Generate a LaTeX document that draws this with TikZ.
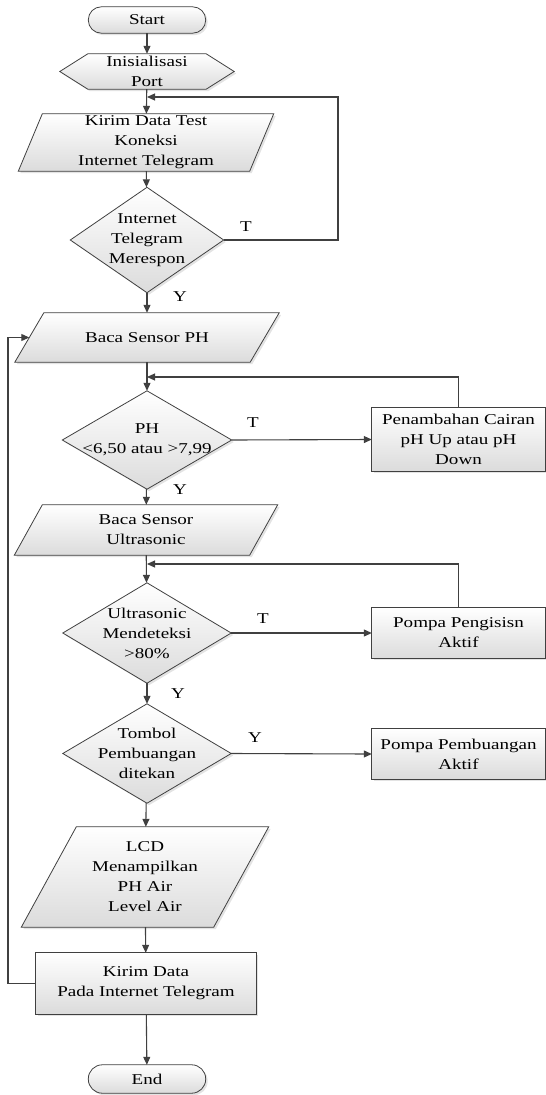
\documentclass[tikz,border=0pt]{standalone}
\usepackage{fontspec}
\setmainfont{Liberation Serif}[FakeStretch=1.27]
\usetikzlibrary{calc}
\usetikzlibrary{arrows.meta}
\usetikzlibrary{shadows}
\usetikzlibrary{backgrounds}
\definecolor{edgegray}{HTML}{404040}

\begin{document}
\begin{tikzpicture}
    [x=1pt,y=-1pt,font=\fontsize{15}{20}\selectfont,
     txt/.style={inner sep=0pt,align=center},
     shapefill/.style={draw=edgegray,line width=0.8pt,top color=white,bottom color=black!14,
       drop shadow={shadow xshift=2pt,shadow yshift=-2pt,fill=black!22}},
     flow/.style={draw=edgegray,line width=1.1pt,-{Triangle[length=8pt,width=7pt]}},
     line/.style={draw=edgegray,line width=1.1pt}]
    \useasboundingbox (0,0) rectangle (546,1095);
    % main column
    \node[txt,minimum width=117pt,minimum height=26pt] (start) at (147,20) {Start};
    \node[txt,minimum width=174pt,minimum height=35pt] (init) at (147,71.5) {Inisialisasi\\Port};
    \node[txt,minimum width=231pt,minimum height=57pt] (test) at (146,142.5) {Kirim Data Test\\Koneksi\\Internet Telegram};
    \node[txt,minimum width=153pt,minimum height=105pt] (respon) at (147,240) {Internet\\Telegram\\Merespon};
    \node[txt,minimum width=235pt,minimum height=49pt] (bacaph) at (147,337.5) {Baca Sensor PH};
    \node[txt,minimum width=169pt,minimum height=98pt] (cekph) at (147,440) {PH\\$\vphantom{<}$\makebox[0pt]{<6,50 atau >7,99}};
    \node[txt,minimum width=235pt,minimum height=50pt] (bacaus) at (146,530) {Baca Sensor\\Ultrasonic};
    \node[txt,minimum width=168pt,minimum height=100pt] (cekus) at (147,633) {Ultrasonic\\Mendeteksi\\>80\%};
    \node[txt,minimum width=168pt,minimum height=99pt] (tombol) at (147,753.5) {Tombol\\Pembuangan\\ditekan};
    \node[txt,minimum width=192pt,minimum height=100pt] (lcd) at (145,877) {LCD\\Menampilkan\\PH Air\\Level Air};
    \node[txt,minimum width=220pt,minimum height=61pt] (kirim) at (146,983.5) {Kirim Data\\Pada Internet Telegram};
    \node[txt,minimum width=117pt,minimum height=28pt] (end) at (147,1079) {End};
    % right column
    \node[txt,minimum width=173pt,minimum height=63pt] (tambah) at (458.5,439.5) {Penambahan Cairan\\pH Up atau pH\\Down};
    \node[txt,minimum width=173pt,minimum height=50pt] (isi) at (458.5,633) {Pompa Pengisisn\\Aktif};
    \node[txt,minimum width=173pt,minimum height=50pt] (buang) at (458.5,754) {Pompa Pembuangan\\Aktif};
    % labels
    \node[txt] (t1) at (246,227) {T};
    \node[txt] (y1) at (180,297) {Y};
    \node[txt] (t2) at (253,423) {T};
    \node[txt] (y2) at (180,490) {Y};
    \node[txt] (t3) at (263,619) {T};
    \node[txt] (y3) at (178,694) {Y};
    \node[txt] (y4) at (255,738) {Y};
    % join points
    \coordinate (m1) at (147,97);
    \coordinate (m2) at (147,377);
    \coordinate (m3) at (147,564);
    \coordinate (r1) at (338,240);
    \coordinate (l1) at (8,983.5);

    \begin{scope}[on background layer]
      \draw[shapefill,rounded corners=13pt] (start.north west) rectangle (start.south east);
      \draw[shapefill,rounded corners=14pt] (end.north west) rectangle (end.south east);
      \draw[shapefill] (init.west) -- ($(init.north west)+(28,0)$) -- ($(init.north east)-(28,0)$)
        -- (init.east) -- ($(init.south east)-(28,0)$) -- ($(init.south west)+(28,0)$) -- cycle;
      \draw[shapefill] ($(test.north west)+(12,0)$) -- ($(test.north east)+(12,0)$)
        -- ($(test.south east)-(12,0)$) -- ($(test.south west)-(12,0)$) -- cycle;
      \draw[shapefill] ($(bacaph.north west)+(14.5,0)$) -- ($(bacaph.north east)+(14.5,0)$)
        -- ($(bacaph.south east)-(14.5,0)$) -- ($(bacaph.south west)-(14.5,0)$) -- cycle;
      \draw[shapefill] ($(bacaus.north west)+(14,0)$) -- ($(bacaus.north east)+(14,0)$)
        -- ($(bacaus.south east)-(14,0)$) -- ($(bacaus.south west)-(14,0)$) -- cycle;
      \draw[shapefill] ($(lcd.north west)+(27.5,0)$) -- ($(lcd.north east)+(27.5,0)$)
        -- ($(lcd.south east)-(27.5,0)$) -- ($(lcd.south west)-(27.5,0)$) -- cycle;
      \draw[shapefill] (respon.north) -- (respon.east) -- (respon.south) -- (respon.west) -- cycle;
      \draw[shapefill] (cekph.north) -- (cekph.east) -- (cekph.south) -- (cekph.west) -- cycle;
      \draw[shapefill] (cekus.north) -- (cekus.east) -- (cekus.south) -- (cekus.west) -- cycle;
      \draw[shapefill] (tombol.north) -- (tombol.east) -- (tombol.south) -- (tombol.west) -- cycle;
      \draw[shapefill] (kirim.north west) rectangle (kirim.south east);
      \draw[shapefill] (tambah.north west) rectangle (tambah.south east);
      \draw[shapefill] (isi.north west) rectangle (isi.south east);
      \draw[shapefill] (buang.north west) rectangle (buang.south east);
    \end{scope}

    % connectors
    \draw[flow] (start) -- (init);
    \draw[flow] (init) -- (test);
    \draw[flow] (test) -- (respon);
    \draw[flow] (respon) -- (bacaph);
    \draw[flow] (bacaph) -- (cekph);
    \draw[flow] (cekph) -- (bacaus);
    \draw[flow] (bacaus) -- (cekus);
    \draw[flow] (cekus) -- (tombol);
    \draw[flow] (tombol) -- (lcd);
    \draw[flow] (lcd) -- (kirim);
    \draw[flow] (kirim) -- (end);
    \draw[flow] (respon.east) -- (r1) |- (m1);
    \draw[flow] (cekph.east) -- (tambah.west);
    \draw[flow] (tambah.north) |- (m2);
    \draw[flow] (cekus.east) -- (isi.west);
    \draw[flow] (isi.north) |- (m3);
    \draw[flow] (tombol.east) -- (buang.west);
    \draw[flow] (kirim.west) -- (l1) |- (bacaph.west);
\end{tikzpicture}
\end{document}
